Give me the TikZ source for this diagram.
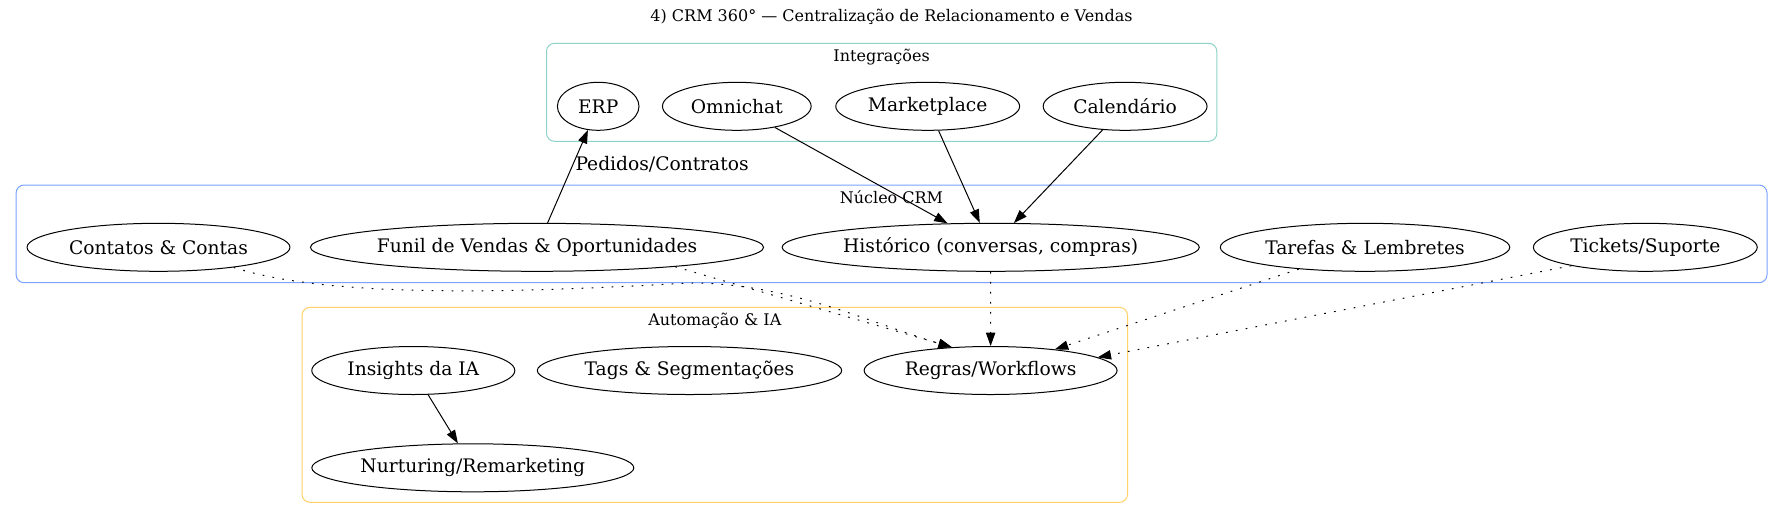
\documentclass[tikz,border=0pt]{standalone}
\usepackage{fontspec}
\setmainfont{DejaVu Serif}
\usetikzlibrary{shapes.geometric,arrows.meta}

\definecolor{intgreen}{RGB}{141,211,199}
\definecolor{coreblue}{RGB}{122,162,255}
\definecolor{autoyellow}{RGB}{255,209,102}

\begin{document}
\begin{tikzpicture}[x=0.75pt, y=-0.75pt,
  every node/.style={font=\fontsize{14}{16}\selectfont},
  box/.style={draw, ellipse, line width=0.75pt, inner sep=0pt, minimum height=36pt},
  group/.style={line width=0.75pt, rounded corners=6pt},
  group_title/.style={font=\fontsize{12}{14}\selectfont},
  >={Triangle[length=10pt,width=7pt]},
  link/.style={->, line width=0.75pt},
  soft_link/.style={link, dash pattern=on 1.3pt off 6.2pt}]

\useasboundingbox (0,0) rectangle (1784,519);

% Title
\node[group_title] (title) at (891.5,17.3) {4) CRM 360° — Centralização de Relacionamento e Vendas};

% Clusters
\draw[group, intgreen] (546.5,43.3) rectangle (1216.8,141.3);
\node[group_title] (integracoes) at (881.6,56.7) {Integrações};
\draw[group, coreblue] (16.1,185) rectangle (1767,282.7);
\node[group_title] (nucleo) at (891.5,197.3) {Núcleo CRM};
\draw[group, autoyellow] (302,307.3) rectangle (1127.5,502.3);
\node[group_title] (automacao) at (714.8,320.7) {Automação \& IA};

% Integrations
\node[box, minimum width=61.2pt] (erp) at (598.2,106.3) {ERP};
\node[box, minimum width=111.5pt] (omnichat) at (736.8,106.3) {Omnichat};
\node[box, minimum width=137.9pt] (marketplace) at (927.7,106.3) {Marketplace};
\node[box, minimum width=122.9pt] (calendario) at (1125.1,106.3) {Calendário};

% CRM core
\node[box, minimum width=197.2pt] (contatos) at (158.5,247.3) {Contatos \& Contas};
\node[box, minimum width=336.2pt] (funil) at (537,247.3) {Funil de Vendas \& Oportunidades};
\node[box, minimum width=309.8pt] (historico) at (990.7,247.3) {Histórico (conversas, compras)};
\node[box, minimum width=217.1pt] (tarefas) at (1365,247.3) {Tarefas \& Lembretes};
\node[box, minimum width=167.9pt] (tickets) at (1645.3,247.3) {Tickets/Suporte};

% Automation
\node[box, minimum width=152.3pt] (insights) at (413.3,370.5) {Insights da IA};
\node[box, minimum width=228.3pt] (tags) at (689.5,370.5) {Tags \& Segmentações};
\node[box, minimum width=189.7pt] (regras) at (990.6,370.5) {Regras/Workflows};
\node[box, minimum width=241.5pt] (nurturing) at (472.8,467.8) {Nurturing/Remarketing};

% Edges
\draw[link] (funil) -- node[pos=0.63, anchor=west, inner sep=1.5pt] (pedidos) {Pedidos/Contratos} (erp);
\draw[link] (omnichat) -- (historico);
\draw[link] (marketplace) -- (historico);
\draw[link] (calendario) -- (historico);
\draw[link] (insights) -- (nurturing);
\draw[soft_link] (contatos.-15) .. controls (340,302) and (560,290) .. (690,283) .. controls (790,283) and (870,323) .. (regras.149);
\draw[soft_link] (funil.-8) -- (regras.149);
\draw[soft_link] (historico) -- (regras);
\draw[soft_link] (tarefas) -- (regras);
\draw[soft_link] (tickets.-166) -- (regras.7);

\end{tikzpicture}
\end{document}
